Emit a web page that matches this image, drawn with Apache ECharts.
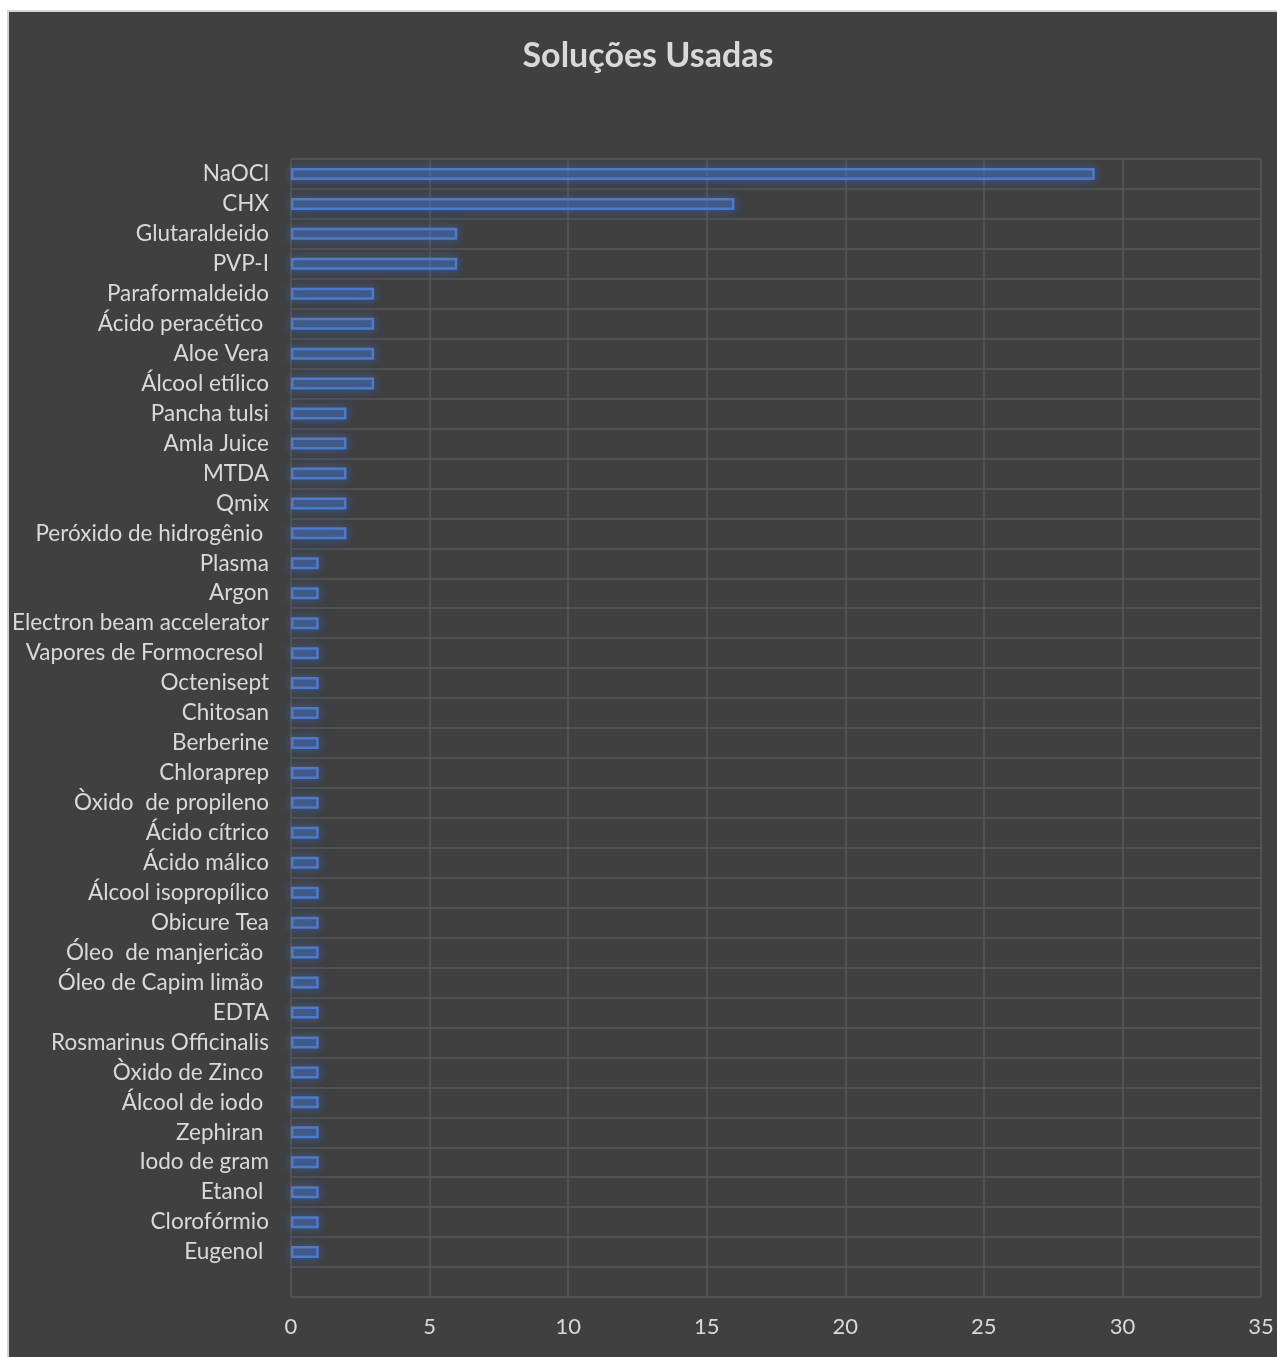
<!DOCTYPE html>
<html>
<head>
<meta charset="utf-8">
<script src="https://cdn.jsdelivr.net/npm/echarts@6/dist/echarts.min.js"></script>
<style>
  html, body { margin: 0; padding: 0; background: #ffffff; }
  #wrap {
    position: absolute; left: 7px; top: 10px;
    width: 1270px; height: 1347px;
    border-left: 2px solid #d4d4d4; border-top: 2px solid #d4d4d4;
    background: #404040;
  }
  #chart { width: 1268px; height: 1345px; }
</style>
</head>
<body>
<div id="wrap"><div id="chart"></div></div>
<script>
// categorias (de cima para baixo)
var categorias = [
  'NaOCl', 'CHX', 'Glutaraldeido', 'PVP-I', 'Paraformaldeido',
  'Ácido peracético ', 'Aloe Vera', 'Álcool etílico', 'Pancha tulsi', 'Amla Juice',
  'MTDA', 'Qmix', 'Peróxido de hidrogênio ', 'Plasma', 'Argon',
  'Electron beam accelerator', 'Vapores de Formocresol ', 'Octenisept', 'Chitosan', 'Berberine',
  'Chloraprep', 'Òxido  de propileno', 'Ácido cítrico', 'Ácido málico', 'Álcool isopropílico',
  'Obicure Tea', 'Óleo  de manjericão ', 'Óleo de Capim limão ', 'EDTA', 'Rosmarinus Officinalis',
  'Òxido de Zinco ', 'Álcool de iodo ', 'Zephiran ', 'Iodo de gram', 'Etanol ',
  'Clorofórmio', 'Eugenol ', ''
];

// quantidade de estudos
var valores = [
  29, 16, 6, 6, 3,
  3, 3, 3, 2, 2,
  2, 2, 2, 1, 1,
  1, 1, 1, 1, 1,
  1, 1, 1, 1, 1,
  1, 1, 1, 1, 1,
  1, 1, 1, 1, 1,
  1, 1, null
];

var ticksX = [0, 5, 10, 15, 20, 25, 30, 35];

var textColor = '#d9d9d9';
var gridColor = '#585858';
var fonte = 'Lato, "Open Sans", sans-serif';

var myChart = echarts.init(document.getElementById('chart'));

var option = {
  backgroundColor: '#404040',
  animation: false,
  title: {
    text: 'Soluções Usadas',
    left: 634,
    textAlign: 'center',
    top: 22,
    textStyle: { color: textColor, fontSize: 34, fontWeight: 'bold', fontFamily: fonte }
  },
  grid: { left: 282, right: 16, top: 147, bottom: 60, containLabel: false },
  xAxis: {
    type: 'value',
    min: ticksX[0],
    max: ticksX[ticksX.length - 1],
    interval: 5,
    axisLine: { show: false },
    axisTick: { show: false },
    axisLabel: { color: textColor, fontSize: 22, fontFamily: fonte, margin: 19 },
    splitLine: { show: true, lineStyle: { color: gridColor, width: 1.5 } }
  },
  yAxis: {
    type: 'category',
    data: categorias,
    inverse: true,
    axisLine: { show: false },
    axisTick: { show: false },
    axisLabel: { color: textColor, fontSize: 22.5, fontFamily: fonte, margin: 22, interval: 0 },
    splitLine: { show: true, interval: 0, lineStyle: { color: gridColor, width: 1.5 } }
  },
  series: [{
    type: 'bar',
    data: valores,
    barWidth: 12,
    itemStyle: {
      color: 'rgba(68,114,196,0.32)',
      borderColor: '#4a7bd0',
      borderWidth: 2.5,
      shadowBlur: 12,
      shadowColor: 'rgba(68,114,196,0.8)'
    }
  }]
};

myChart.setOption(option);
</script>
</body>
</html>
